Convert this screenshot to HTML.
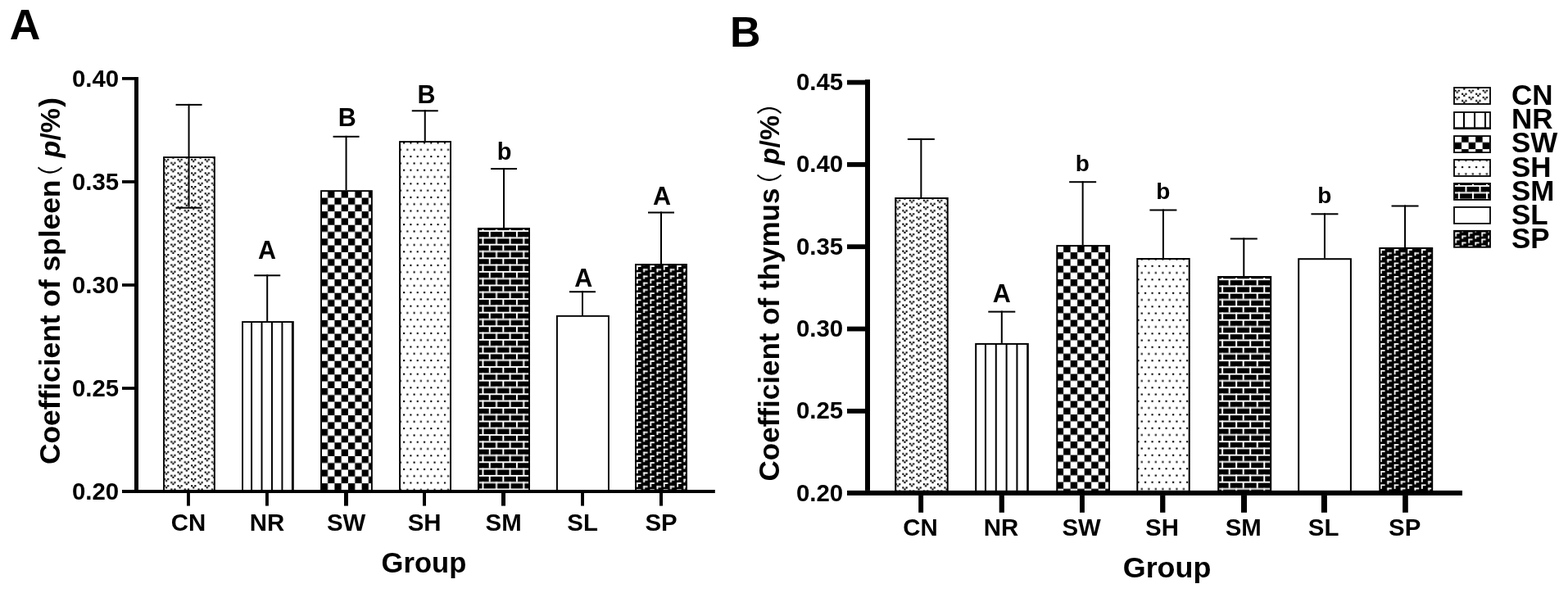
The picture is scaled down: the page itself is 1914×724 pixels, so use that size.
<!DOCTYPE html>
<html><head><meta charset="utf-8"><style>
html,body{margin:0;padding:0;background:#fff;width:1914px;height:724px;overflow:hidden}
svg{display:block}
</style></head><body>
<svg width="1914" height="724" viewBox="0 0 1914 724" font-family="'Liberation Sans', Arial, sans-serif"><defs><pattern id="acn" patternUnits="userSpaceOnUse" width="16" height="8" patternTransform="translate(216.50,235.30) scale(1.0375,1.0375)"><rect width="16" height="8" fill="#fff"/><rect x="0" y="0" width="2.05" height="2.05"/><rect x="4" y="0" width="2.05" height="2.05"/><rect x="2" y="2" width="2.05" height="2.05"/><rect x="8" y="4" width="2.05" height="2.05"/><rect x="12" y="4" width="2.05" height="2.05"/><rect x="10" y="6" width="2.05" height="2.05"/></pattern><pattern id="anr" patternUnits="userSpaceOnUse" width="12" height="8" patternTransform="translate(306.10,0.00) scale(1.0375,1)"><rect width="12" height="8" fill="#fff"/><rect x="0" y="0" width="1.9" height="8"/></pattern><pattern id="asw" patternUnits="userSpaceOnUse" width="16" height="16" patternTransform="translate(391.80,241.50) scale(1.0375,1.0375)"><rect width="16" height="16" fill="#fff"/><rect x="0" y="0" width="8" height="8"/><rect x="8" y="8" width="8" height="8"/></pattern><pattern id="ash" patternUnits="userSpaceOnUse" width="8" height="16" patternTransform="translate(492.10,173.50) scale(1.0375,1.0375)"><rect width="8" height="16" fill="#fff"/><rect x="0" y="0" width="2.0" height="2.0"/><rect x="4" y="8" width="2.0" height="2.0"/></pattern><pattern id="asm" patternUnits="userSpaceOnUse" width="16" height="16" patternTransform="translate(596.75,281.10) scale(1.0375,1.0375)"><rect width="16" height="16" fill="#000"/><rect x="0" y="0" width="16" height="1.85" fill="#fff"/><rect x="0" y="8" width="16" height="1.85" fill="#fff"/><rect x="0" y="0" width="1.9" height="8" fill="#fff"/><rect x="8" y="8" width="1.9" height="8" fill="#fff"/></pattern><pattern id="asp" patternUnits="userSpaceOnUse" width="16" height="8" patternTransform="translate(777.00,324.10) scale(1.025,1.035)"><rect width="16" height="8" fill="#000"/><rect x="0" y="0" width="5.35" height="1.75" fill="#fff"/><rect x="0" y="0" width="1.75" height="5.35" fill="#fff"/><rect x="8" y="4" width="5.35" height="1.75" fill="#fff"/><rect x="8" y="4" width="1.75" height="5.35" fill="#fff"/></pattern><pattern id="bcn" patternUnits="userSpaceOnUse" width="16" height="8" patternTransform="translate(1109.80,301.50) scale(1.065,1.031)"><rect width="16" height="8" fill="#fff"/><rect x="0" y="0" width="2.05" height="2.05"/><rect x="4" y="0" width="2.05" height="2.05"/><rect x="2" y="2" width="2.05" height="2.05"/><rect x="8" y="4" width="2.05" height="2.05"/><rect x="12" y="4" width="2.05" height="2.05"/><rect x="10" y="6" width="2.05" height="2.05"/></pattern><pattern id="bnr" patternUnits="userSpaceOnUse" width="12" height="8" patternTransform="translate(1201.95,0.00) scale(1.069,1)"><rect width="12" height="8" fill="#fff"/><rect x="0" y="0" width="1.9" height="8"/></pattern><pattern id="bsw" patternUnits="userSpaceOnUse" width="16" height="16" patternTransform="translate(1289.60,308.10) scale(1.065,1.031)"><rect width="16" height="16" fill="#fff"/><rect x="0" y="0" width="8" height="8"/><rect x="8" y="8" width="8" height="8"/></pattern><pattern id="bsh" patternUnits="userSpaceOnUse" width="8" height="16" patternTransform="translate(1397.00,406.30) scale(1.065,1.031)"><rect width="8" height="16" fill="#fff"/><rect x="0" y="0" width="2.0" height="2.0"/><rect x="4" y="8" width="2.0" height="2.0"/></pattern><pattern id="bsm" patternUnits="userSpaceOnUse" width="16" height="16" patternTransform="translate(1499.65,340.25) scale(1.065,1.031)"><rect width="16" height="16" fill="#000"/><rect x="0" y="0" width="16" height="1.85" fill="#fff"/><rect x="0" y="8" width="16" height="1.85" fill="#fff"/><rect x="0" y="0" width="1.9" height="8" fill="#fff"/><rect x="8" y="8" width="1.9" height="8" fill="#fff"/></pattern><pattern id="bsp" patternUnits="userSpaceOnUse" width="16" height="8" patternTransform="translate(1685.00,304.10) scale(1.04,1.026)"><rect width="16" height="8" fill="#000"/><rect x="0" y="0" width="5.35" height="1.75" fill="#fff"/><rect x="0" y="0" width="1.75" height="5.35" fill="#fff"/><rect x="8" y="4" width="5.35" height="1.75" fill="#fff"/><rect x="8" y="4" width="1.75" height="5.35" fill="#fff"/></pattern><pattern id="lcn" patternUnits="userSpaceOnUse" width="16" height="8" patternTransform="translate(1775.55,109.65) scale(1.065,1.031)"><rect width="16" height="8" fill="#fff"/><rect x="0" y="0" width="2.05" height="2.05"/><rect x="4" y="0" width="2.05" height="2.05"/><rect x="2" y="2" width="2.05" height="2.05"/><rect x="8" y="4" width="2.05" height="2.05"/><rect x="12" y="4" width="2.05" height="2.05"/><rect x="10" y="6" width="2.05" height="2.05"/></pattern><pattern id="lnr" patternUnits="userSpaceOnUse" width="12" height="8" patternTransform="translate(1786.00,0.00) scale(1.0833,1)"><rect width="12" height="8" fill="#fff"/><rect x="0" y="0" width="1.9" height="8"/></pattern><pattern id="lsw" patternUnits="userSpaceOnUse" width="16" height="16" patternTransform="translate(1784.10,165.60) scale(1.065,1.031)"><rect width="16" height="16" fill="#fff"/><rect x="0" y="0" width="8" height="8"/><rect x="8" y="8" width="8" height="8"/></pattern><pattern id="lsh" patternUnits="userSpaceOnUse" width="8" height="16" patternTransform="translate(1784.00,203.10) scale(1.065,1.031)"><rect width="8" height="16" fill="#fff"/><rect x="0" y="0" width="2.0" height="2.0"/><rect x="4" y="8" width="2.0" height="2.0"/></pattern><pattern id="lsm" patternUnits="userSpaceOnUse" width="16" height="16" patternTransform="translate(1788.50,226.10) scale(1.065,1.031)"><rect width="16" height="16" fill="#000"/><rect x="0" y="0" width="16" height="1.85" fill="#fff"/><rect x="0" y="8" width="16" height="1.85" fill="#fff"/><rect x="0" y="0" width="1.9" height="8" fill="#fff"/><rect x="8" y="8" width="1.9" height="8" fill="#fff"/></pattern><pattern id="lsp" patternUnits="userSpaceOnUse" width="16" height="8" patternTransform="translate(1776.30,283.50) scale(1.0,1.0)"><rect width="16" height="8" fill="#000"/><rect x="0" y="0" width="5.35" height="1.75" fill="#fff"/><rect x="0" y="0" width="1.75" height="5.35" fill="#fff"/><rect x="8" y="4" width="5.35" height="1.75" fill="#fff"/><rect x="8" y="4" width="1.75" height="5.35" fill="#fff"/></pattern></defs><rect width="1914" height="724" fill="#fff"/><rect x="200.05" y="192.05" width="61.80" height="406.95" fill="url(#acn)" stroke="#000" stroke-width="1.9"/><rect x="296.05" y="393.05" width="61.80" height="205.95" fill="url(#anr)" stroke="#000" stroke-width="1.9"/><rect x="392.05" y="233.15" width="61.80" height="365.85" fill="url(#asw)" stroke="#000" stroke-width="1.9"/><rect x="488.05" y="173.05" width="62.00" height="425.95" fill="url(#ash)" stroke="#000" stroke-width="1.9"/><rect x="583.95" y="278.95" width="62.10" height="320.05" fill="url(#asm)" stroke="#000" stroke-width="1.9"/><rect x="679.95" y="385.85" width="63.00" height="213.15" fill="#fff" stroke="#000" stroke-width="1.9"/><rect x="775.95" y="322.95" width="62.10" height="276.05" fill="url(#asp)" stroke="#000" stroke-width="1.9"/><rect x="229.55" y="126.90" width="2.00" height="125.80" fill="#000" /><rect x="214.55" y="126.90" width="32.00" height="2.00" fill="#000" /><rect x="214.55" y="252.70" width="32.00" height="2.00" fill="#000" /><rect x="325.20" y="335.30" width="2.00" height="56.80" fill="#000" /><rect x="310.20" y="335.30" width="32.00" height="2.00" fill="#000" /><rect x="421.55" y="165.80" width="2.00" height="66.40" fill="#000" /><rect x="406.55" y="165.80" width="32.00" height="2.00" fill="#000" /><rect x="517.75" y="134.30" width="2.00" height="37.80" fill="#000" /><rect x="502.75" y="134.30" width="32.00" height="2.00" fill="#000" /><rect x="614.05" y="205.10" width="2.00" height="72.90" fill="#000" /><rect x="599.05" y="205.10" width="32.00" height="2.00" fill="#000" /><rect x="710.00" y="355.25" width="2.00" height="29.65" fill="#000" /><rect x="695.00" y="355.25" width="32.00" height="2.00" fill="#000" /><rect x="806.00" y="258.50" width="2.00" height="63.50" fill="#000" /><rect x="791.00" y="258.50" width="32.00" height="2.00" fill="#000" /><rect x="164.00" y="94.00" width="5.00" height="504.00" fill="#000" /><rect x="149.00" y="598.00" width="723.80" height="4.00" fill="#000" /><rect x="149.00" y="94.05" width="20.00" height="3.70" fill="#000" /><rect x="149.00" y="220.10" width="20.00" height="3.70" fill="#000" /><rect x="149.00" y="346.15" width="20.00" height="3.70" fill="#000" /><rect x="149.00" y="472.20" width="20.00" height="3.70" fill="#000" /><rect x="228.00" y="601.50" width="3.90" height="16.10" fill="#000" /><rect x="324.00" y="601.50" width="3.90" height="16.10" fill="#000" /><rect x="420.00" y="601.50" width="5.00" height="16.10" fill="#000" /><rect x="516.00" y="601.50" width="4.00" height="16.10" fill="#000" /><rect x="612.00" y="601.50" width="5.00" height="16.10" fill="#000" /><rect x="709.10" y="601.50" width="3.90" height="16.10" fill="#000" /><rect x="805.00" y="601.50" width="4.00" height="16.10" fill="#000" /><text x="145.10" y="105.80" font-size="29.4" text-anchor="end" font-weight="bold" >0.40</text><text x="145.10" y="231.85" font-size="29.4" text-anchor="end" font-weight="bold" >0.35</text><text x="145.10" y="357.90" font-size="29.4" text-anchor="end" font-weight="bold" >0.30</text><text x="145.10" y="483.95" font-size="29.4" text-anchor="end" font-weight="bold" >0.25</text><text x="145.10" y="610.00" font-size="29.4" text-anchor="end" font-weight="bold" >0.20</text><text x="230.05" y="647.90" font-size="29.4" text-anchor="middle" font-weight="bold" >CN</text><text x="326.05" y="647.90" font-size="29.4" text-anchor="middle" font-weight="bold" >NR</text><text x="422.60" y="647.90" font-size="29.4" text-anchor="middle" font-weight="bold" >SW</text><text x="518.10" y="647.90" font-size="29.4" text-anchor="middle" font-weight="bold" >SH</text><text x="614.60" y="647.90" font-size="29.4" text-anchor="middle" font-weight="bold" >SM</text><text x="711.15" y="647.90" font-size="29.4" text-anchor="middle" font-weight="bold" >SL</text><text x="807.10" y="647.90" font-size="29.4" text-anchor="middle" font-weight="bold" >SP</text><text x="325.90" y="316.20" font-size="30.5" text-anchor="middle" font-weight="bold" >A</text><text x="423.83" y="154.40" font-size="30.5" text-anchor="middle" font-weight="bold" >B</text><text x="520.53" y="125.60" font-size="30.5" text-anchor="middle" font-weight="bold" >B</text><text x="615.62" y="194.50" font-size="29" text-anchor="middle" font-weight="bold" >b</text><text x="712.15" y="350.30" font-size="30.5" text-anchor="middle" font-weight="bold" >A</text><text x="807.90" y="250.10" font-size="30.5" text-anchor="middle" font-weight="bold" >A</text><rect x="1093.20" y="242.00" width="63.50" height="357.90" fill="url(#bcn)" stroke="#000" stroke-width="2.0"/><rect x="1191.20" y="419.90" width="63.60" height="180.00" fill="url(#bnr)" stroke="#000" stroke-width="2.0"/><rect x="1290.30" y="300.10" width="63.70" height="299.80" fill="url(#bsw)" stroke="#000" stroke-width="2.0"/><rect x="1388.30" y="316.00" width="63.40" height="283.90" fill="url(#bsh)" stroke="#000" stroke-width="2.0"/><rect x="1487.20" y="338.00" width="64.00" height="261.90" fill="url(#bsm)" stroke="#000" stroke-width="2.0"/><rect x="1585.20" y="316.20" width="63.70" height="283.70" fill="#fff" stroke="#000" stroke-width="2.0"/><rect x="1684.30" y="303.00" width="63.90" height="296.90" fill="url(#bsp)" stroke="#000" stroke-width="2.0"/><rect x="1123.35" y="168.90" width="2.00" height="72.10" fill="#000" /><rect x="1107.85" y="168.90" width="33.00" height="2.00" fill="#000" /><rect x="1221.80" y="379.60" width="2.00" height="39.30" fill="#000" /><rect x="1206.30" y="379.60" width="33.00" height="2.00" fill="#000" /><rect x="1320.65" y="221.20" width="2.00" height="77.90" fill="#000" /><rect x="1305.15" y="221.20" width="33.00" height="2.00" fill="#000" /><rect x="1418.90" y="255.50" width="2.00" height="59.50" fill="#000" /><rect x="1403.40" y="255.50" width="33.00" height="2.00" fill="#000" /><rect x="1517.30" y="290.50" width="2.00" height="46.50" fill="#000" /><rect x="1501.80" y="290.50" width="33.00" height="2.00" fill="#000" /><rect x="1615.95" y="260.30" width="2.00" height="54.90" fill="#000" /><rect x="1600.45" y="260.30" width="33.00" height="2.00" fill="#000" /><rect x="1714.05" y="250.50" width="2.00" height="51.50" fill="#000" /><rect x="1698.55" y="250.50" width="33.00" height="2.00" fill="#000" /><rect x="1056.00" y="97.20" width="6.00" height="501.70" fill="#000" /><rect x="1034.00" y="598.90" width="751.00" height="6.00" fill="#000" /><rect x="1034.00" y="97.70" width="28.00" height="5.80" fill="#000" /><rect x="1034.00" y="198.02" width="28.00" height="5.80" fill="#000" /><rect x="1034.00" y="298.34" width="28.00" height="5.80" fill="#000" /><rect x="1034.00" y="398.66" width="28.00" height="5.80" fill="#000" /><rect x="1034.00" y="498.98" width="28.00" height="5.80" fill="#000" /><rect x="1121.20" y="604.40" width="5.90" height="21.40" fill="#000" /><rect x="1219.70" y="604.40" width="6.20" height="21.40" fill="#000" /><rect x="1318.00" y="604.40" width="5.90" height="21.40" fill="#000" /><rect x="1416.10" y="604.40" width="6.30" height="21.40" fill="#000" /><rect x="1515.00" y="604.40" width="7.00" height="21.40" fill="#000" /><rect x="1612.90" y="604.40" width="7.00" height="21.40" fill="#000" /><rect x="1712.10" y="604.40" width="6.70" height="21.40" fill="#000" /><text x="1029.20" y="110.00" font-size="29.4" text-anchor="end" font-weight="bold" >0.45</text><text x="1029.20" y="210.32" font-size="29.4" text-anchor="end" font-weight="bold" >0.40</text><text x="1029.20" y="310.64" font-size="29.4" text-anchor="end" font-weight="bold" >0.35</text><text x="1029.20" y="410.96" font-size="29.4" text-anchor="end" font-weight="bold" >0.30</text><text x="1029.20" y="511.28" font-size="29.4" text-anchor="end" font-weight="bold" >0.25</text><text x="1029.20" y="611.60" font-size="29.4" text-anchor="end" font-weight="bold" >0.20</text><text x="1123.40" y="653.90" font-size="29.4" text-anchor="middle" font-weight="bold" >CN</text><text x="1222.05" y="653.90" font-size="29.4" text-anchor="middle" font-weight="bold" >NR</text><text x="1320.20" y="653.90" font-size="29.4" text-anchor="middle" font-weight="bold" >SW</text><text x="1418.50" y="653.90" font-size="29.4" text-anchor="middle" font-weight="bold" >SH</text><text x="1517.75" y="653.90" font-size="29.4" text-anchor="middle" font-weight="bold" >SM</text><text x="1615.65" y="653.90" font-size="29.4" text-anchor="middle" font-weight="bold" >SL</text><text x="1714.70" y="653.90" font-size="29.4" text-anchor="middle" font-weight="bold" >SP</text><text x="1222.70" y="369.40" font-size="30.5" text-anchor="middle" font-weight="bold" >A</text><text x="1321.19" y="209.10" font-size="28" text-anchor="middle" font-weight="bold" >b</text><text x="1419.69" y="242.90" font-size="28" text-anchor="middle" font-weight="bold" >b</text><text x="1616.89" y="247.90" font-size="28" text-anchor="middle" font-weight="bold" >b</text><text x="11.66" y="48.20" font-size="52" text-anchor="start" font-weight="bold" >A</text><text x="890.92" y="57.20" font-size="52" text-anchor="start" font-weight="bold" >B</text><text x="517.45" y="698.50" font-size="34.6" text-anchor="middle" font-weight="bold" >Group</text><text x="1424.55" y="704.50" font-size="35.9" text-anchor="middle" font-weight="bold" >Group</text><text transform="translate(72.70,567.05) rotate(-90)" font-size="35.33" font-weight="bold">Coefficient of spleen</text><text transform="translate(72.70,233.40) rotate(-90)" font-size="31.5" font-family="'Liberation Sans', 'Noto Sans CJK SC', sans-serif" font-weight="normal">（</text><text transform="translate(72.70,192.40) rotate(-90)" font-size="34" font-weight="bold"><tspan font-style="italic">p</tspan>/%</text><text transform="translate(72.70,130.85) rotate(-90)" font-size="35.33" font-weight="bold">)</text><text transform="translate(950.75,587.43) rotate(-90)" font-size="35.0" font-weight="bold">Coefficient of thymus</text><text transform="translate(950.75,242.80) rotate(-90)" font-size="31.5" font-family="'Liberation Sans', 'Noto Sans CJK SC', sans-serif" font-weight="normal">（</text><text transform="translate(950.75,201.30) rotate(-90)" font-size="34" font-weight="bold"><tspan font-style="italic">p</tspan>/%</text><text transform="translate(950.75,140.40) rotate(-90)" font-size="31.5" font-family="'Liberation Sans', 'Noto Sans CJK SC', sans-serif" font-weight="normal">）</text><rect x="1775.0" y="107.00" width="44.0" height="20.0" fill="url(#lcn)" stroke="#000" stroke-width="1.8"/><text x="1844.99" y="128.20" font-size="35" text-anchor="start" font-weight="bold" >CN</text><rect x="1775.0" y="137.00" width="44.0" height="20.0" fill="url(#lnr)" stroke="#000" stroke-width="1.8"/><rect x="1774.10" y="155.30" width="45.80" height="2.60" fill="#000" /><text x="1844.99" y="157.30" font-size="35" text-anchor="start" font-weight="bold" >NR</text><rect x="1775.0" y="166.10" width="44.0" height="20.0" fill="url(#lsw)" stroke="#000" stroke-width="1.8"/><text x="1844.99" y="186.40" font-size="35" text-anchor="start" font-weight="bold" >SW</text><rect x="1775.0" y="195.00" width="44.0" height="20.0" fill="url(#lsh)" stroke="#000" stroke-width="1.8"/><text x="1844.99" y="215.50" font-size="35" text-anchor="start" font-weight="bold" >SH</text><rect x="1775.0" y="223.90" width="44.0" height="20.0" fill="url(#lsm)" stroke="#000" stroke-width="1.8"/><text x="1844.99" y="244.60" font-size="35" text-anchor="start" font-weight="bold" >SM</text><rect x="1775.0" y="252.90" width="44.0" height="20.0" fill="#fff" stroke="#000" stroke-width="1.8"/><text x="1844.99" y="273.70" font-size="35" text-anchor="start" font-weight="bold" >SL</text><rect x="1775.0" y="281.80" width="44.0" height="20.0" fill="url(#lsp)" stroke="#000" stroke-width="1.8"/><text x="1844.99" y="302.80" font-size="35" text-anchor="start" font-weight="bold" >SP</text></svg>
</body></html>
